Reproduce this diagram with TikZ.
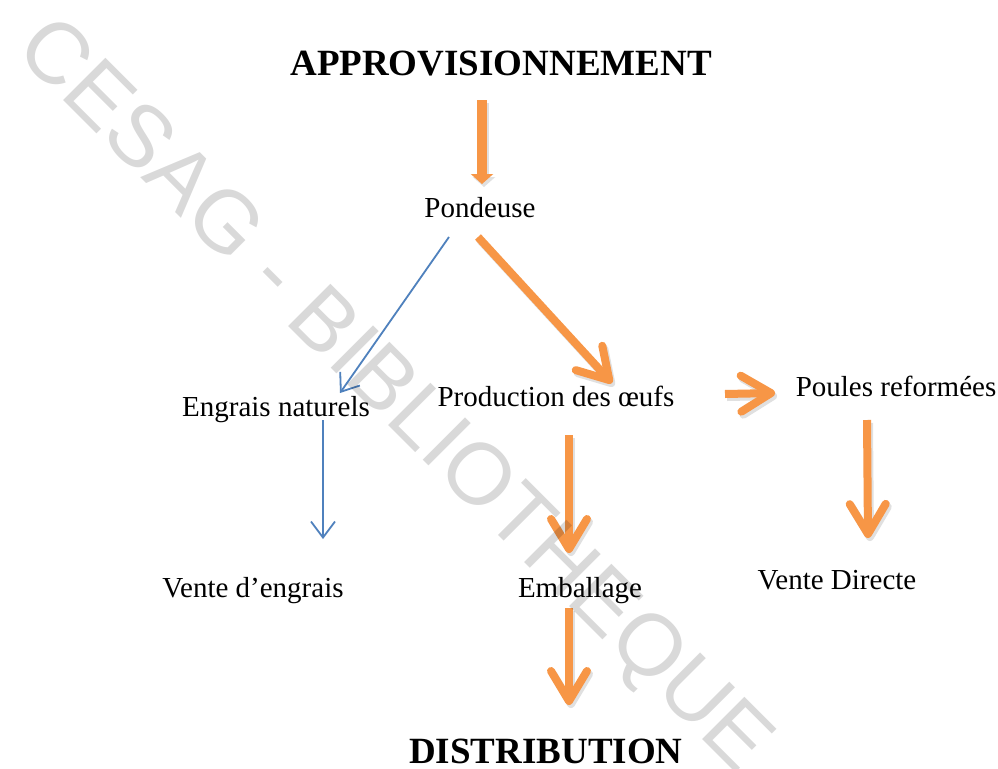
\documentclass[tikz,border=0pt]{standalone}
\usepackage{fontspec}
\setmainfont{Liberation Serif}
\newfontfamily\wmfont{Liberation Sans}
\usetikzlibrary{arrows.meta}
\definecolor{orng}{HTML}{F79646}
\definecolor{blu}{HTML}{4F81BD}
\begin{document}
\begin{tikzpicture}[x=1pt,y=-1pt,
  lbl/.style={anchor=base, inner sep=0pt, font=\fontsize{29}{34}\selectfont},
  ttl/.style={anchor=base, inner sep=0pt, font=\fontsize{37}{44}\selectfont\bfseries},
  orarrow/.style={draw=orng, line width=8pt, -{Straight Barb[length=30pt,width=36pt,round]}},
  shad/.style={draw=black!12, line width=8pt, -{Straight Barb[length=30pt,width=36pt,round]}, transform canvas={shift={(2pt,-3pt)}}},
  blarrow/.style={draw=blu, line width=1.8pt, -{Straight Barb[length=16pt,width=24pt]}},
]
\useasboundingbox (0,0) rectangle (998,768);
\fill[white] (0,0) rectangle (998,768);

% nodes
\node[ttl] (app) at (501,75) {APPROVISIONNEMENT};
\node[lbl] (pond) at (480,217) {Pondeuse};
\node[lbl] (engr) at (276,416) {Engrais naturels};
\node[lbl] (prod) at (556,406) {Production des œufs};
\node[lbl] (poul) at (896,396) {Poules reformées};
\node[lbl] (vengr) at (253,597) {Vente d’engrais};
\node[lbl] (emb) at (580,597) {Emballage};
\node[lbl] (vdir) at (837,589) {Vente Directe};
\node[ttl] (dist) at (546,763) {DISTRIBUTION};

% connector ends
\coordinate (appOut) at (482,100);
\coordinate (pondIn) at (482,184);
\coordinate (pondL) at (449,237);
\coordinate (engrIn) at (340,393);
\coordinate (pondR) at (478,237);
\coordinate (prodIn) at (612,383);
\coordinate (prodR) at (725,394);
\coordinate (poulIn) at (775,393);
\coordinate (engrOut) at (323,420);
\coordinate (vengrIn) at (323,539);
\coordinate (prodOut) at (569,435);
\coordinate (embIn) at (569,553);
\coordinate (poulOut) at (867,420);
\coordinate (vdirIn) at (868,538);
\coordinate (embOut) at (569,608);
\coordinate (distIn) at (569,705);

% shadows
\draw[draw=black!12, line width=10pt, -{Triangle[length=10pt,width=22pt]}, transform canvas={shift={(2pt,-3pt)}}] (appOut) -- (pondIn);
\draw[shad] (pondR) -- (prodIn);
\draw[shad] (prodR) -- (poulIn);
\draw[shad] (prodOut) -- (embIn);
\draw[shad] (poulOut) -- (vdirIn);
\draw[shad] (embOut) -- (distIn);

% connectors
\draw[draw=orng, line width=10pt, -{Triangle[length=10pt,width=22pt]}] (appOut) -- (pondIn);
\draw[blarrow] (pondL) -- (engrIn);
\draw[orarrow] (pondR) -- (prodIn);
\draw[orarrow] (prodR) -- (poulIn);
\draw[blarrow] (engrOut) -- (vengrIn);
\draw[orarrow] (prodOut) -- (embIn);
\draw[orarrow] (poulOut) -- (vdirIn);
\draw[orarrow] (embOut) -- (distIn);

% watermark
\node[rotate=-45, inner sep=0pt, font=\wmfont\fontsize{87}{100}\selectfont, text=black, opacity=0.15] (wm) at (392,398) {CESAG - BIBLIOTHEQUE};
\end{tikzpicture}
\end{document}
